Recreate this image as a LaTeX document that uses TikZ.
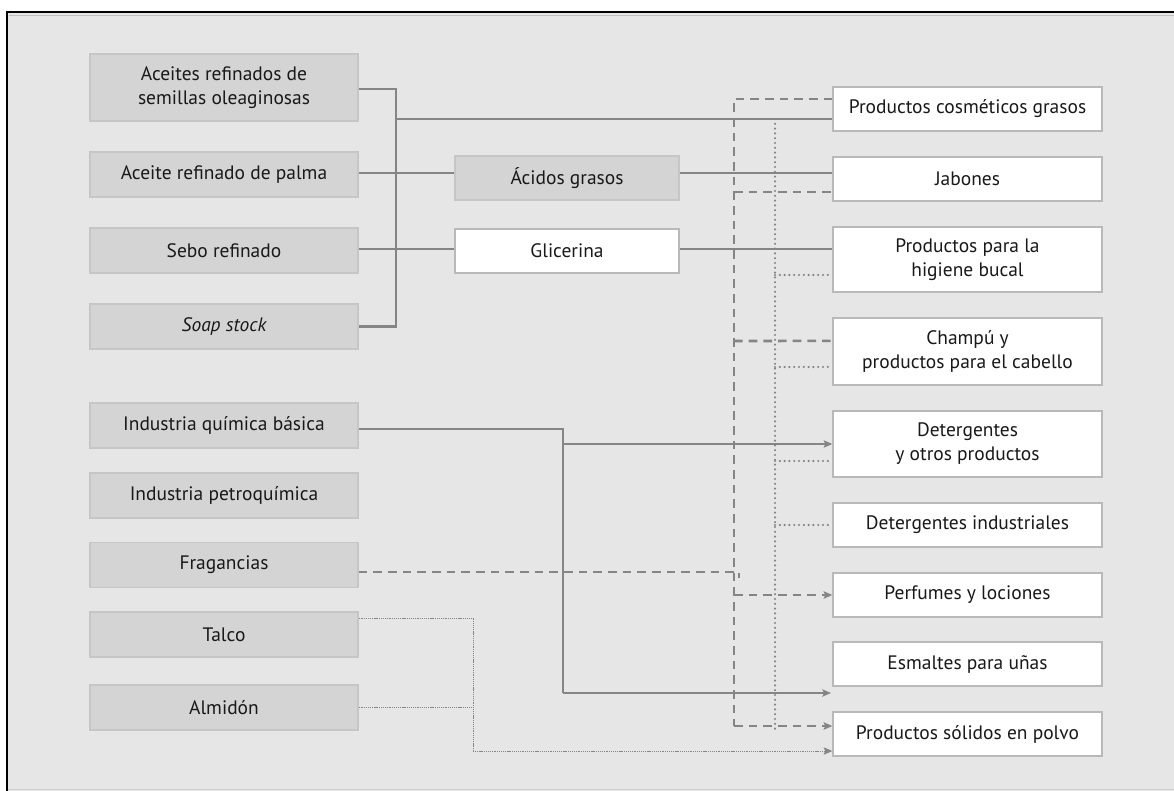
\documentclass[tikz,border=0pt]{standalone}
\usepackage{fontspec}
\setmainfont{PT Sans}
\usetikzlibrary{arrows.meta}
\definecolor{bgc}{HTML}{E6E6E7}
\definecolor{gbox}{HTML}{D4D4D5}
\definecolor{gbord}{HTML}{C6C6C7}
\definecolor{wbord}{HTML}{B9B9BA}
\definecolor{lnc}{HTML}{858586}
\tikzset{
  x=0.75pt, y=-0.75pt,
  base/.style={align=center, inner sep=0pt, font=\fontsize{14.6}{18}\selectfont, text=black!90, line width=1pt},
  lbox/.style={base, fill=gbox, draw=gbord, minimum width=201pt, minimum height=33.75pt},
  mbox/.style={base, minimum width=168pt, minimum height=33pt},
  rbox/.style={base, fill=white, draw=wbord, minimum width=201.75pt, minimum height=33pt},
  thick line/.style={draw=lnc, line width=1.7pt},
  thin line/.style={draw=lnc, line width=0.9pt},
  dsh/.style={draw=lnc, line width=1.9pt, dash pattern=on 6.5pt off 4.5pt},
  dotl/.style={draw=lnc, line width=1.8pt, line cap=round, dash pattern=on 0pt off 3.6pt},
  fdot/.style={draw=lnc, line width=0.7pt, dash pattern=on 0.8pt off 0.6pt},
  arr/.style={-{Stealth[length=6.5pt, width=5.5pt, inset=1.2pt]}}
}
\begin{document}
\begin{tikzpicture}
\useasboundingbox (0,0) rectangle (1174,791);
\fill[bgc] (7,12) rectangle (1174,791);
\draw[black!20, line width=0.8pt] (7,789.5) -- (1174,789.5);
\draw[black!25, line width=0.8pt] (9,15.5) -- (1174,15.5);
\draw[black, line width=1.6pt] (7,791) -- (7,12) -- (1174,12);

% left column
\node[lbox, minimum height=50.25pt] (a1) at (224,87.5) {Aceites refinados de\\semillas oleaginosas};
\node[lbox] (a2) at (224,174.5) {Aceite refinado de palma};
\node[lbox] (a3) at (224,250.5) {Sebo refinado};
\node[lbox] (a4) at (224,326.5) {\itshape Soap stock};
\node[lbox] (b1) at (224,425.5) {Industria química básica};
\node[lbox] (b2) at (224,495.5) {Industria petroquímica};
\node[lbox] (b3) at (224,565) {Fragancias};
\node[lbox] (b4) at (224,634.5) {Talco};
\node[lbox] (b5) at (224,707.5) {Almidón};

% middle
\node[mbox, fill=gbox, draw=gbord] (ac) at (567,178) {Ácidos grasos};
\node[mbox, fill=white, draw=wbord] (gl) at (567,251) {Glicerina};

% right column
\node[rbox] (r1) at (967.5,109) {Productos cosméticos grasos};
\node[rbox] (r2) at (967.5,179) {Jabones};
\node[rbox, minimum height=48.75pt] (r3) at (967.5,259.5) {Productos para la\\higiene bucal};
\node[rbox, minimum height=50.25pt] (r4) at (967.5,351.5) {Champú y\\productos para el cabello};
\node[rbox, minimum height=49.5pt] (r5) at (967.5,444) {Detergentes\\y otros productos};
\node[rbox] (r6) at (967.5,525) {Detergentes industriales};
\node[rbox] (r7) at (967.5,595) {Perfumes y lociones};
\node[rbox] (r8) at (967.5,664) {Esmaltes para uñas};
\node[rbox] (r9) at (967.5,734) {Productos sólidos en polvo};

\coordinate (bus) at (396,0);
\coordinate (dv) at (734,0);
\coordinate (tv) at (775,0);
\coordinate (qv) at (563,0);
\coordinate (lv) at (473,0);

% dotted vertical (drawn first, under others)
\draw[dotl] (tv |- 0,119) -- (tv |- 0,732);
\draw[dotl] (tv |- 0,275) -- ([yshift=-11.6pt]r3.west);
\draw[dotl] (tv |- 0,367) -- ([yshift=-11.6pt]r4.west);
\draw[dotl] (tv |- 0,461) -- ([yshift=-12.75pt]r5.west);
\draw[dotl] (tv |- r6.west) -- (r6.west);

% dashed vertical
\draw[dsh] ([yshift=7.5pt]r1.west) -| (dv |- 0,726);
\draw[dsh, arr] (dv |- 0,726) -- ([yshift=6pt]r9.west);
\draw[dsh] (dv |- 0,192) -- ([yshift=-9.75pt]r2.west);
\draw[dsh] (dv |- 0,341) -- ([yshift=7.9pt]r4.west);
\draw[dsh, arr] (dv |- r7.west) -- (r7.west);
\draw[dsh] ([yshift=-5.25pt]b3.east) -- (739,572) -- (739,578);

% solid bus lines
\draw[thick line] ([yshift=-1.1pt]a1.east) -| (bus |- a4.east) -- (a4.east);
\draw[thick line] (bus |- 0,119) -- ([yshift=-7.5pt]r1.west);
\draw[thick line] ([yshift=1pt]a2.east) -- ([yshift=1pt]a2.east -| ac.west);
\draw[thick line] ([yshift=1pt]a3.east) -- ([yshift=1pt]a3.east -| gl.west);
\draw[thick line] ([yshift=1pt]a2.east -| ac.east) -- ([yshift=1pt]a2.east -| r2.west);
\draw[thick line] ([yshift=1pt]a3.east -| gl.east) -- ([yshift=1pt]a3.east -| r3.west);

% industria quimica
\draw[thin line] ([yshift=-2.6pt]b1.east) -| (qv |- 0,693);
\draw[thin line, arr] (qv |- 0,693) -- (831,693);
\draw[thin line, arr] (qv |- r5.west) -- (r5.west);

% talco / almidon
\draw[fdot] ([yshift=12.4pt]b4.east) -| (lv |- 0,751);
\draw[fdot, arr] (lv |- 0,751) -- ([yshift=-12.75pt]r9.west);
\draw[fdot] (b5.east) -- (lv |- b5.east);
\end{tikzpicture}
\end{document}
